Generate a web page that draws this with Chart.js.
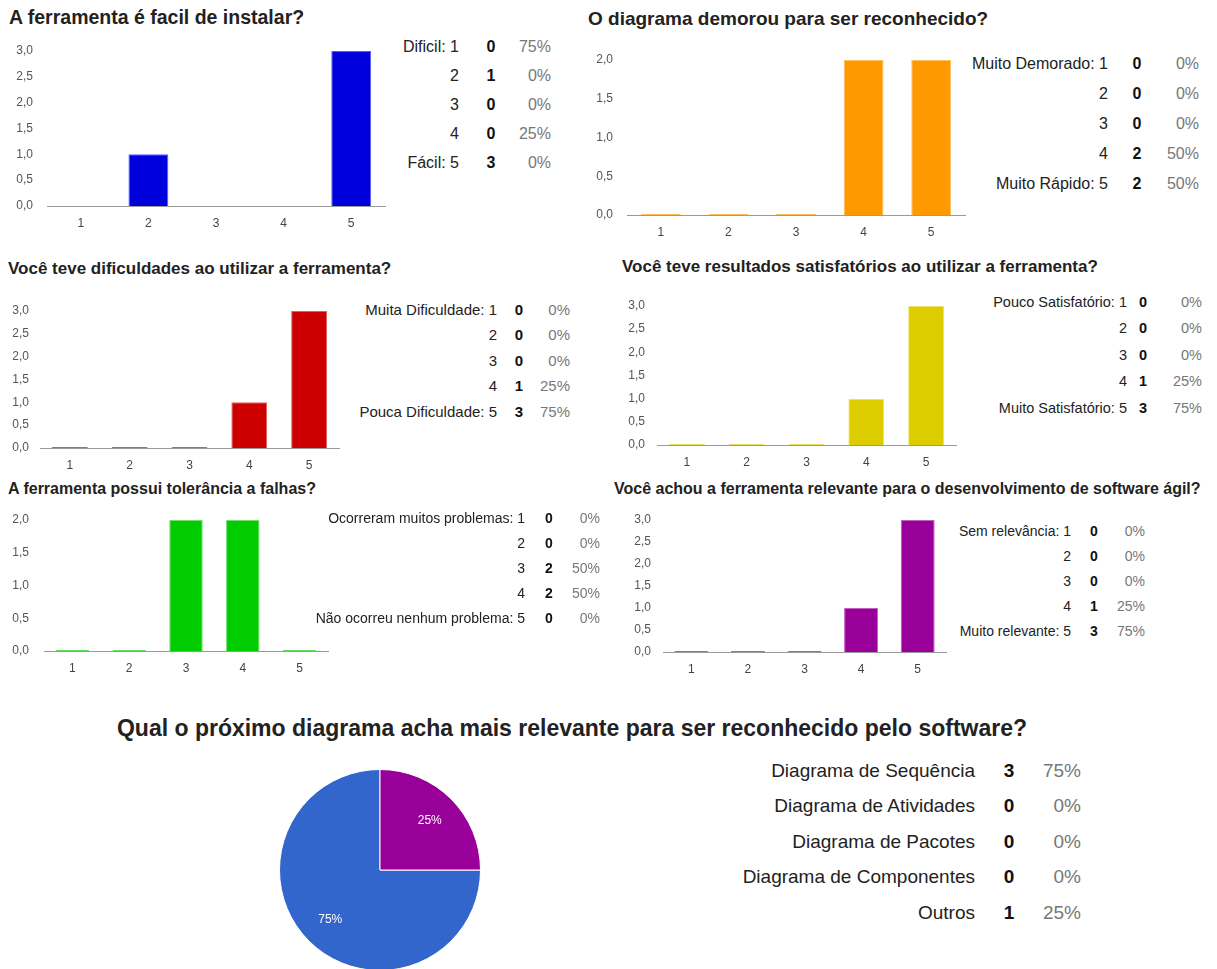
<!DOCTYPE html>
<html lang="pt">
<head>
<meta charset="UTF-8">
<title>Resumo das respostas</title>
<script src="https://cdn.jsdelivr.net/npm/chart.js"></script>
<style>
  body {
    margin: 0;
    width: 1217px;
    height: 969px;
    overflow: hidden;
    background: #fff;
    position: relative;
    font-family: "Liberation Sans", Arial, sans-serif;
  }
  .title { position: absolute; font-weight: bold; color: #222; white-space: nowrap; }
  .cell { position: absolute; white-space: nowrap; color: #222; }
  .count { font-weight: bold; color: #111; }
  .pct { color: #777; }
  canvas { position: absolute; }
</style>
</head>
<body>
<script>
  // ---- data ----
  const escala = ['1', '2', '3', '4', '5'];

  const instalarLabels = ['Dificil: 1', '2', '3', '4', 'Fácil: 5'];
  const instalarCounts = [0, 1, 0, 0, 3];
  const instalarPct = ['75%', '0%', '0%', '25%', '0%'];

  const demorouLabels = ['Muito Demorado: 1', '2', '3', '4', 'Muito Rápido: 5'];
  const demorouCounts = [0, 0, 0, 2, 2];
  const demorouPct = ['0%', '0%', '0%', '50%', '50%'];

  const dificuldadeLabels = ['Muita Dificuldade: 1', '2', '3', '4', 'Pouca Dificuldade: 5'];
  const dificuldadeCounts = [0, 0, 0, 1, 3];
  const dificuldadePct = ['0%', '0%', '0%', '25%', '75%'];

  const satisfacaoLabels = ['Pouco Satisfatório: 1', '2', '3', '4', 'Muito Satisfatório: 5'];
  const satisfacaoCounts = [0, 0, 0, 1, 3];
  const satisfacaoPct = ['0%', '0%', '0%', '25%', '75%'];

  const toleranciaLabels = ['Ocorreram muitos problemas: 1', '2', '3', '4', 'Não ocorreu nenhum problema: 5'];
  const toleranciaCounts = [0, 0, 2, 2, 0];
  const toleranciaPct = ['0%', '0%', '50%', '50%', '0%'];

  const relevanciaLabels = ['Sem relevância: 1', '2', '3', '4', 'Muito relevante: 5'];
  const relevanciaCounts = [0, 0, 0, 1, 3];
  const relevanciaPct = ['0%', '0%', '0%', '25%', '75%'];

  const diagramas = ['Diagrama de Sequência', 'Diagrama de Atividades', 'Diagrama de Pacotes', 'Diagrama de Componentes', 'Outros'];
  const diagramaCounts = [3, 0, 0, 0, 1];
  const diagramaPct = ['75%', '0%', '0%', '0%', '25%'];

  const FONT = '"Liberation Sans", Arial, sans-serif';
  const PAGE_W = 1217;

  function addTitle(text, x, cy, size, center) {
    const d = document.createElement('div');
    d.className = 'title';
    d.textContent = text;
    d.style.fontSize = size + 'px';
    d.style.lineHeight = (size + 4) + 'px';
    d.style.top = (cy - (size + 4) / 2) + 'px';
    if (center) {
      d.style.left = (x - 600) + 'px';
      d.style.width = '1200px';
      d.style.textAlign = 'center';
    } else {
      d.style.left = x + 'px';
    }
    document.body.appendChild(d);
  }

  function addCell(text, cls, right, cy, size, centerX) {
    const d = document.createElement('div');
    d.className = 'cell ' + cls;
    d.textContent = text;
    d.style.fontSize = size + 'px';
    d.style.lineHeight = (size + 4) + 'px';
    d.style.top = (cy - (size + 4) / 2) + 'px';
    if (centerX !== undefined) {
      d.style.left = (centerX - 20) + 'px';
      d.style.width = '40px';
      d.style.textAlign = 'center';
    } else {
      d.style.right = (PAGE_W - right) + 'px';
      d.style.textAlign = 'right';
    }
    document.body.appendChild(d);
  }

  function addTable(labels, counts, pct, t) {
    labels.forEach((lab, i) => {
      const cy = t.y0 + i * t.gap;
      addCell(lab, '', t.labelRight, cy, t.size);
      addCell(String(counts[i]), 'count', 0, cy, t.size, t.countX);
      addCell(pct[i], 'pct', t.pctRight, cy, t.size);
    });
  }

  const Y_W = 45, X_H = 28, PAD_TOP = 10;

  function barChart(counts, color, edge, yMax, a, zeroLine) {
    const c = document.createElement('canvas');
    const w = a.right - a.left + Y_W + 2;
    const h = a.bottom - a.top + PAD_TOP + X_H;
    c.width = w; c.height = h;
    c.style.left = (a.left - Y_W) + 'px';
    c.style.top = (a.top - PAD_TOP) + 'px';
    document.body.appendChild(c);
    new Chart(c.getContext('2d'), {
      type: 'bar',
      data: {
        labels: escala,
        datasets: [{
          data: counts,
          backgroundColor: color,
          borderColor: edge,
          borderWidth: 1,
          categoryPercentage: 1,
          barPercentage: a.bar,
          minBarLength: zeroLine ? 1 : 0
        }]
      },
      options: {
        responsive: false,
        animation: false,
        layout: { padding: { top: PAD_TOP, right: 2, left: 0, bottom: 0 } },
        plugins: { legend: { display: false }, tooltip: { enabled: false } },
        scales: {
          x: {
            grid: { display: false, drawTicks: false },
            border: { display: true, color: '#9a9a9a', width: 1 },
            ticks: { color: '#444', font: { size: 12, family: FONT }, padding: 10 },
            afterFit(s) { s.height = X_H; s.paddingLeft = 0; s.paddingRight = 0; }
          },
          y: {
            min: 0,
            max: yMax,
            grid: { display: false, drawTicks: false },
            border: { display: false },
            ticks: {
              stepSize: 0.5,
              color: '#555',
              font: { size: 12, family: FONT },
              padding: a.left - a.labelRight,
              callback: v => v.toFixed(1).replace('.', ',')
            },
            afterFit(s) { s.width = Y_W; s.paddingTop = 0; s.paddingBottom = 0; }
          }
        }
      }
    });
  }

  // ---- chart 1 ----
  addTitle('A ferramenta é facil de instalar?', 9, 18, 19.5);
  barChart(instalarCounts, '#0000dd', '#5a5aff', 3,
    { left: 47, right: 385, top: 51, bottom: 206, labelRight: 33, bar: 0.59 }, false);
  addTable(instalarLabels, instalarCounts, instalarPct,
    { labelRight: 459, countX: 491, pctRight: 551, y0: 47, gap: 29, size: 16 });

  // ---- chart 2 ----
  addTitle('O diagrama demorou para ser reconhecido?', 588, 18, 19);
  barChart(demorouCounts, '#ff9900', '#ffc060', 2,
    { left: 627, right: 965, top: 60, bottom: 215, labelRight: 613, bar: 0.59 }, true);
  addTable(demorouLabels, demorouCounts, demorouPct,
    { labelRight: 1108, countX: 1137, pctRight: 1199, y0: 64, gap: 30, size: 16 });

  // ---- chart 3 ----
  addTitle('Você teve dificuldades ao utilizar a ferramenta?', 8, 268, 17);
  barChart(dificuldadeCounts, '#cc0000', '#e06060', 3,
    { left: 40, right: 339, top: 311, bottom: 448, labelRight: 29, bar: 0.6 }, true);
  addTable(dificuldadeLabels, dificuldadeCounts, dificuldadePct,
    { labelRight: 497, countX: 519, pctRight: 570, y0: 309, gap: 25.5, size: 15 });

  // ---- chart 4 ----
  addTitle('Você teve resultados satisfatórios ao utilizar a ferramenta?', 622, 266, 17);
  barChart(satisfacaoCounts, '#ddcc00', '#eee070', 3,
    { left: 657, right: 956, top: 306, bottom: 445, labelRight: 645, bar: 0.6 }, true);
  addTable(satisfacaoLabels, satisfacaoCounts, satisfacaoPct,
    { labelRight: 1127, countX: 1143, pctRight: 1202, y0: 302, gap: 26.5, size: 14.5 });

  // ---- chart 5 ----
  addTitle('A ferramenta possui tolerância a falhas?', 8, 489, 16);
  barChart(toleranciaCounts, '#00cc00', '#70e070', 2,
    { left: 44, right: 328, top: 520, bottom: 651, labelRight: 29, bar: 0.59 }, true);
  addTable(toleranciaLabels, toleranciaCounts, toleranciaPct,
    { labelRight: 525, countX: 549, pctRight: 600, y0: 518, gap: 25, size: 14 });

  // ---- chart 6 ----
  addTitle('Você achou a ferramenta relevante para o desenvolvimento de software ágil?', 614, 489, 16);
  barChart(relevanciaCounts, '#990099', '#c060c0', 3,
    { left: 663, right: 946, top: 520, bottom: 652, labelRight: 651, bar: 0.6 }, true);
  addTable(relevanciaLabels, relevanciaCounts, relevanciaPct,
    { labelRight: 1071, countX: 1094, pctRight: 1145, y0: 531, gap: 25, size: 14 });

  // ---- pie ----
  addTitle('Qual o próximo diagrama acha mais relevante para ser reconhecido pelo software?', 572, 728, 23, true);

  const sliceLabels = {
    id: 'sliceLabels',
    afterDatasetsDraw(chart) {
      const ctx = chart.ctx;
      const meta = chart.getDatasetMeta(0);
      ctx.save();
      ctx.fillStyle = '#fff';
      ctx.font = '12px ' + FONT;
      ctx.textAlign = 'center';
      ctx.textBaseline = 'middle';
      meta.data.forEach((arc, i) => {
        if (!diagramaCounts[i]) return;
        const p = arc.getProps(['x', 'y', 'startAngle', 'endAngle', 'outerRadius']);
        const mid = (p.startAngle + p.endAngle) / 2;
        const r = p.outerRadius * 0.7;
        ctx.fillText(diagramaPct[i], p.x + Math.cos(mid) * r, p.y + Math.sin(mid) * r);
      });
      ctx.restore();
    }
  };

  const pc = document.createElement('canvas');
  pc.width = 202; pc.height = 202;
  pc.style.left = '279px';
  pc.style.top = '769px';
  document.body.appendChild(pc);
  new Chart(pc.getContext('2d'), {
    type: 'pie',
    data: {
      labels: diagramas,
      datasets: [{
        data: diagramaCounts,
        backgroundColor: ['#3366cc', '#dc3912', '#ff9900', '#109618', '#990099'],
        borderColor: '#fff',
        borderWidth: 1,
        hoverOffset: 0
      }]
    },
    options: {
      responsive: false,
      animation: false,
      rotation: 90,
      layout: { padding: 0 },
      plugins: { legend: { display: false }, tooltip: { enabled: false } }
    },
    plugins: [sliceLabels]
  });

  addTable(diagramas, diagramaCounts, diagramaPct,
    { labelRight: 975, countX: 1009, pctRight: 1081, y0: 770, gap: 35.5, size: 19 });
</script>
</body>
</html>
